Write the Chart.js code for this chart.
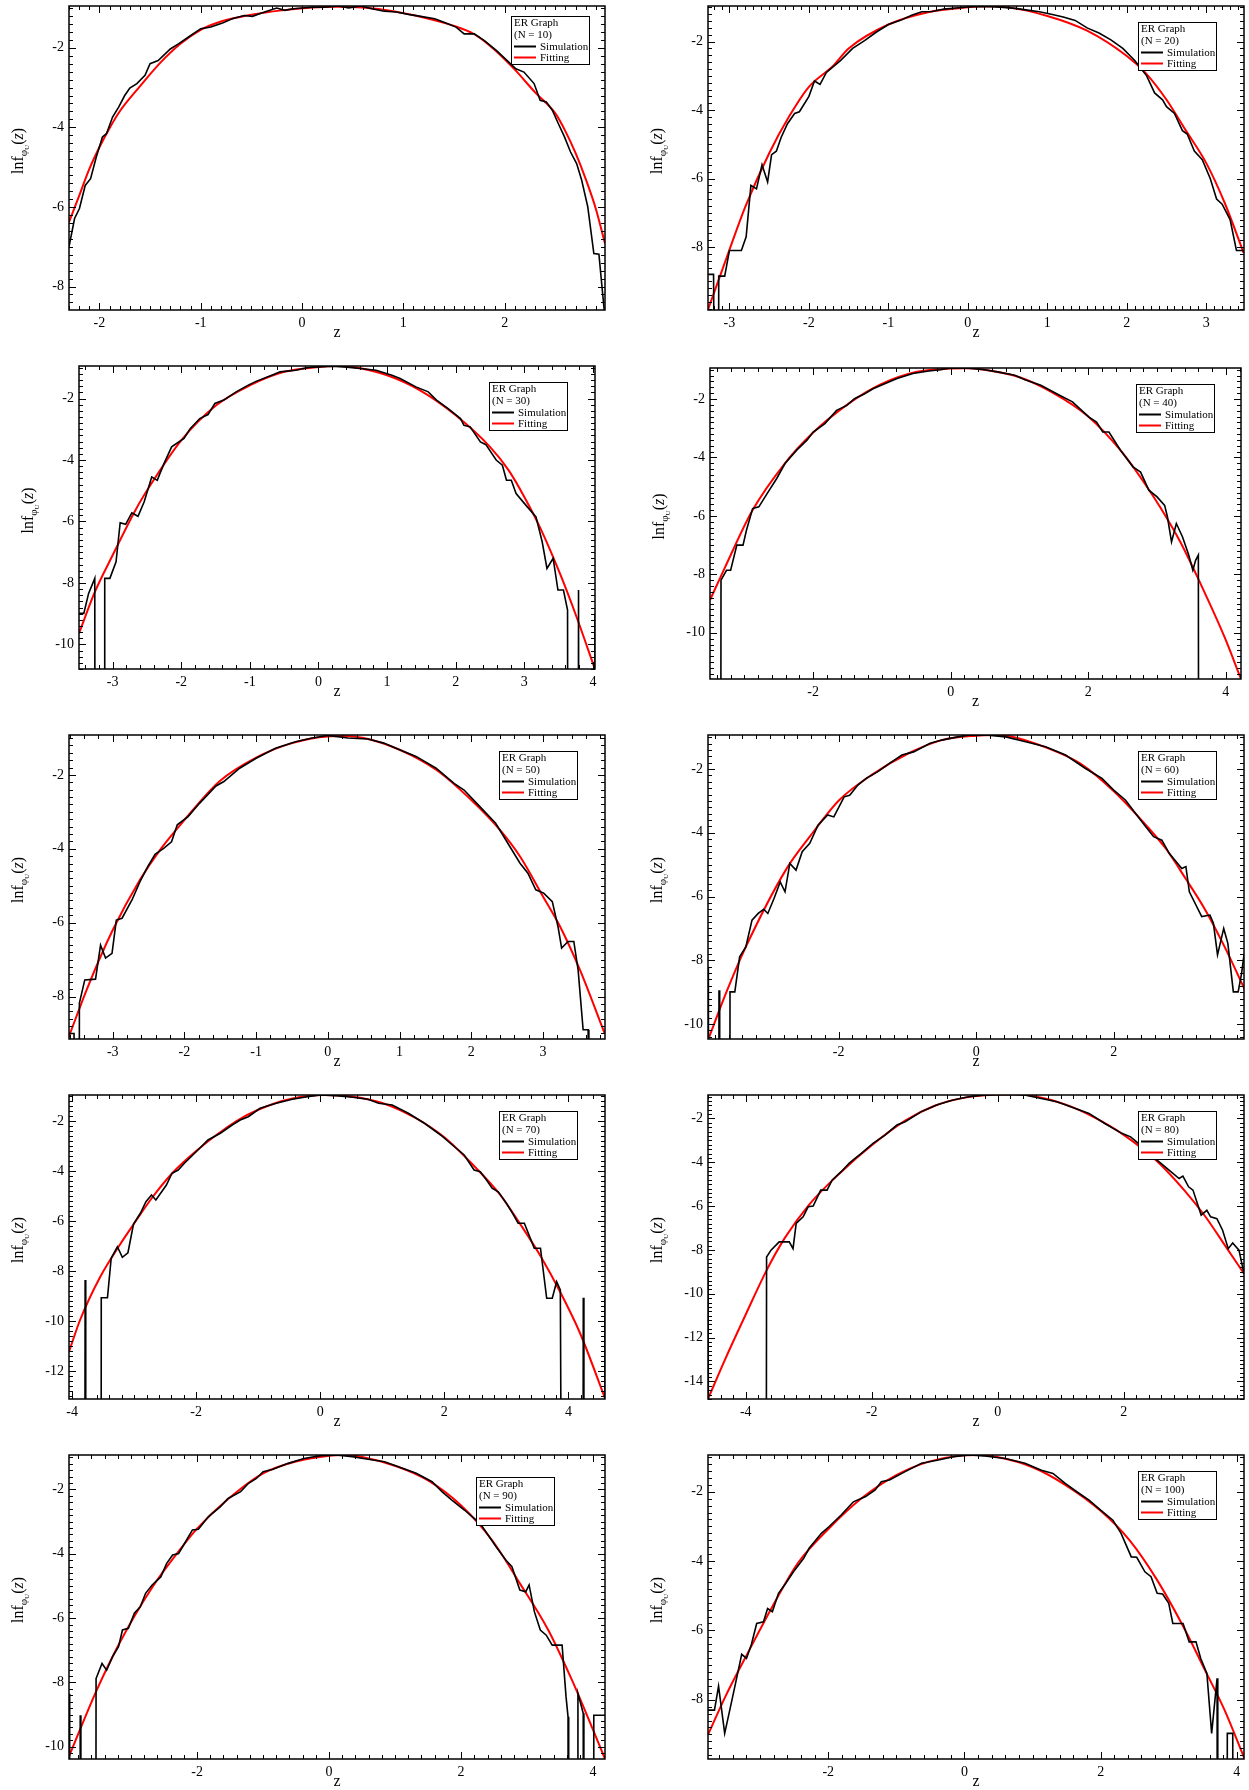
<!DOCTYPE html>
<html>
<head>
<meta charset="utf-8">
<script src="https://cdn.jsdelivr.net/npm/chart.js@4.4.0/dist/chart.umd.min.js"></script>
<style>
  html, body { margin: 0; padding: 0; background: #fff; overflow: hidden; }
  body { width: 1249px; height: 1790px; position: relative; }
  canvas { position: absolute; }
</style>
</head>
<body>
<script>
// ---- data: [z, ln f(z)] pairs; -30 marks empty bins (ln 0) ----
const panelN = [10, 20, 30, 40, 50, 60, 70, 80, 90, 100];

const sim10 = [[-2.30,-7.0],[-2.245,-6.29],[-2.197,-6.04],[-2.14,-5.46],[-2.087,-5.29],[-2.03,-4.74],[-1.97,-4.24],[-1.93,-4.16],[-1.87,-3.74],[-1.81,-3.49],[-1.75,-3.2],[-1.70,-3.01],[-1.63,-2.90],[-1.55,-2.69],[-1.50,-2.40],[-1.42,-2.32],[-1.30,-2.03],[-1.22,-1.90],[-1.12,-1.73],[-1.0,-1.52],[-0.90,-1.48],[-0.785,-1.38],[-0.69,-1.27],[-0.57,-1.19],[-0.49,-1.21],[-0.37,-1.10],[-0.25,-1.0],[-0.17,-1.06],[-0.09,-1.02],[0,-1.0],[0.10,-0.98],[0.22,-0.98],[0.36,-0.95],[0.46,-1.0],[0.58,-0.95],[0.69,-1.02],[0.81,-1.08],[0.93,-1.10],[1.05,-1.16],[1.17,-1.21],[1.31,-1.27],[1.40,-1.36],[1.52,-1.48],[1.60,-1.65],[1.70,-1.65],[1.80,-1.82],[1.92,-2.07],[2.04,-2.36],[2.11,-2.53],[2.19,-2.61],[2.29,-2.90],[2.35,-3.32],[2.41,-3.36],[2.47,-3.57],[2.53,-3.91],[2.59,-4.24],[2.65,-4.62],[2.71,-4.91],[2.76,-5.33],[2.82,-6.0],[2.88,-7.17],[2.93,-7.19],[2.96,-8.0],[2.99,-8.8]];
const fit10 = [[-2.3,-6.38],[-2.2,-5.72],[-2.1,-5.05],[-2.0,-4.5],[-1.9,-4.02],[-1.8,-3.6],[-1.6,-2.97],[-1.4,-2.38],[-1.2,-1.9],[-1.0,-1.55],[-0.8,-1.34],[-0.5,-1.17],[-0.2,-1.06],[0.1,-0.99],[0.35,-0.97],[0.6,-0.99],[0.9,-1.08],[1.2,-1.24],[1.5,-1.45],[1.7,-1.66],[1.9,-2.05],[2.1,-2.55],[2.3,-3.12],[2.5,-3.65],[2.6,-4.1],[2.7,-4.65],[2.8,-5.3],[2.9,-6.05],[2.99,-6.92]];

const sim20 = [[-3.27,-8.8],[-3.2,-8.8],[-3.145,-30],[-3.135,-8.85],[-3.06,-8.85],[-3.0,-8.1],[-2.93,-8.1],[-2.85,-8.1],[-2.79,-7.7],[-2.73,-6.2],[-2.66,-6.3],[-2.59,-5.6],[-2.52,-6.1],[-2.47,-5.3],[-2.41,-5.2],[-2.35,-4.8],[-2.27,-4.4],[-2.18,-4.1],[-2.12,-4.05],[-2.0,-3.6],[-1.93,-3.15],[-1.86,-3.25],[-1.78,-2.9],[-1.6,-2.55],[-1.45,-2.2],[-1.3,-1.97],[-1.15,-1.72],[-1.0,-1.5],[-0.85,-1.38],[-0.7,-1.22],[-0.58,-1.13],[-0.45,-1.12],[-0.3,-1.05],[-0.15,-1.02],[0,-0.99],[0.15,-0.97],[0.3,-0.98],[0.45,-1.0],[0.6,-1.03],[0.75,-1.08],[0.9,-1.13],[1.05,-1.2],[1.2,-1.28],[1.35,-1.38],[1.5,-1.6],[1.65,-1.75],[1.8,-1.95],[1.95,-2.2],[2.1,-2.55],[2.25,-3.0],[2.35,-3.5],[2.45,-3.7],[2.5,-3.9],[2.6,-4.1],[2.7,-4.6],[2.76,-4.7],[2.85,-5.2],[2.95,-5.45],[3.05,-6.0],[3.13,-6.6],[3.2,-6.75],[3.3,-7.2],[3.38,-8.1],[3.47,-8.1]];
const fit20 = [[-3.27,-9.83],[-3.0,-8.08],[-2.8,-6.82],[-2.5,-5.26],[-2.25,-4.19],[-2.0,-3.32],[-1.7,-2.72],[-1.5,-2.2],[-1.0,-1.5],[-0.5,-1.14],[0,-1.0],[0.22,-0.97],[0.5,-1.0],[1.0,-1.25],[1.5,-1.68],[2.0,-2.42],[2.23,-2.9],[2.5,-3.7],[2.73,-4.55],[3.0,-5.55],[3.23,-6.7],[3.47,-8.17]];

const sim30 = [[-3.49,-8.99],[-3.42,-8.99],[-3.35,-8.34],[-3.26,-7.85],[-3.25,-30],[-3.12,-30],[-3.115,-7.85],[-3.04,-7.85],[-2.95,-7.31],[-2.89,-6.04],[-2.81,-6.09],[-2.72,-5.72],[-2.63,-5.83],[-2.54,-5.36],[-2.43,-4.55],[-2.35,-4.66],[-2.25,-4.11],[-2.14,-3.57],[-1.96,-3.30],[-1.87,-2.98],[-1.73,-2.65],[-1.61,-2.52],[-1.51,-2.16],[-1.38,-2.05],[-1.2,-1.78],[-1.03,-1.57],[-0.91,-1.44],[-0.68,-1.24],[-0.56,-1.13],[-0.33,-1.08],[-0.15,-0.99],[0,-0.97],[0.2,-0.95],[0.37,-0.97],[0.61,-1.02],[0.84,-1.08],[1.07,-1.24],[1.19,-1.35],[1.42,-1.62],[1.6,-1.78],[1.72,-2.05],[1.89,-2.33],[2.07,-2.65],[2.12,-2.87],[2.21,-2.92],[2.36,-3.41],[2.44,-3.50],[2.59,-4.0],[2.68,-4.17],[2.74,-4.66],[2.81,-4.66],[2.88,-5.09],[3.0,-5.41],[3.17,-5.85],[3.26,-6.66],[3.33,-7.53],[3.42,-7.2],[3.49,-8.23],[3.57,-8.23],[3.63,-8.88],[3.64,-30],[3.78,-30],[3.79,-8.23],[3.80,-30],[4.01,-30],[4.03,-8.99]];
const fit30 = [[-3.49,-9.64],[-3.26,-8.3],[-3.0,-7.1],[-2.66,-5.6],[-2.43,-4.75],[-2.0,-3.36],[-1.49,-2.22],[-1.0,-1.57],[-0.5,-1.13],[0,-0.97],[0.26,-0.94],[0.49,-0.97],[1.0,-1.24],[1.48,-1.73],[2.0,-2.54],[2.5,-3.57],[2.77,-4.33],[3.0,-5.2],[3.23,-6.2],[3.52,-7.7],[3.76,-9.1],[4.03,-10.81]];

const sim40 = [[-3.35,-30],[-3.34,-8.2],[-3.26,-7.86],[-3.20,-7.86],[-3.11,-7.0],[-3.02,-7.0],[-2.97,-6.49],[-2.88,-5.75],[-2.79,-5.69],[-2.67,-5.24],[-2.53,-4.72],[-2.41,-4.21],[-2.24,-3.75],[-2.09,-3.41],[-2.0,-3.13],[-1.83,-2.84],[-1.66,-2.39],[-1.51,-2.22],[-1.40,-1.99],[-1.25,-1.82],[-1.13,-1.65],[-0.96,-1.48],[-0.78,-1.30],[-0.55,-1.13],[-0.32,-1.04],[-0.15,-1.0],[0,-0.93],[0.26,-0.95],[0.49,-1.0],[0.70,-1.08],[0.93,-1.19],[1.08,-1.34],[1.31,-1.53],[1.54,-1.82],[1.77,-2.10],[2.01,-2.62],[2.12,-2.79],[2.21,-3.13],[2.30,-3.13],[2.47,-3.76],[2.65,-4.32],[2.76,-4.50],[2.88,-5.12],[3.0,-5.35],[3.11,-5.64],[3.15,-6.03],[3.21,-6.89],[3.28,-6.26],[3.37,-6.72],[3.46,-7.34],[3.52,-7.86],[3.56,-7.52],[3.60,-7.34],[3.61,-30]];
const fit40 = [[-3.5,-8.88],[-3.28,-7.75],[-2.88,-5.8],[-2.41,-4.2],[-2.0,-3.15],[-1.48,-2.15],[-1.02,-1.5],[-0.49,-1.07],[0,-0.96],[0.2,-0.95],[0.49,-1.0],[0.99,-1.25],[1.48,-1.78],[1.99,-2.58],[2.47,-3.76],[2.82,-4.89],[3.05,-5.72],[3.34,-6.9],[3.63,-8.31],[3.98,-10.14],[4.22,-11.58]];

const sim50 = [[-3.61,-9.0],[-3.54,-9.0],[-3.48,-30],[-3.465,-8.18],[-3.39,-7.55],[-3.24,-7.53],[-3.17,-6.61],[-3.10,-6.96],[-3.01,-6.83],[-2.95,-5.93],[-2.87,-5.88],[-2.73,-5.38],[-2.62,-4.89],[-2.51,-4.48],[-2.41,-4.15],[-2.29,-3.99],[-2.18,-3.81],[-2.10,-3.35],[-1.95,-3.13],[-1.79,-2.77],[-1.56,-2.30],[-1.45,-2.18],[-1.23,-1.82],[-1.0,-1.55],[-0.73,-1.28],[-0.45,-1.10],[-0.22,-1.0],[0,-0.93],[0.28,-1.0],[0.56,-1.03],[0.78,-1.14],[1.0,-1.32],[1.23,-1.50],[1.51,-1.82],[1.76,-2.23],[1.90,-2.41],[2.12,-2.86],[2.34,-3.31],[2.51,-3.85],[2.68,-4.39],[2.79,-4.66],[2.90,-5.11],[3.01,-5.20],[3.13,-5.43],[3.21,-6.11],[3.26,-6.69],[3.35,-6.51],[3.43,-6.51],[3.49,-7.28],[3.56,-8.90],[3.63,-8.90],[3.64,-30]];
const fit50 = [[-3.62,-9.13],[-3.35,-7.75],[-3.0,-6.2],[-2.62,-4.84],[-2.34,-4.03],[-2.0,-3.22],[-1.51,-2.17],[-1.0,-1.53],[-0.5,-1.14],[0,-0.96],[0.22,-0.95],[0.5,-1.0],[1.0,-1.32],[1.51,-1.86],[2.0,-2.68],[2.4,-3.49],[2.68,-4.21],[3.0,-5.29],[3.24,-6.11],[3.52,-7.3],[3.86,-9.0]];

const sim60 = [[-3.895,-8.2],[-3.88,-30],[-3.75,-30],[-3.74,-8.94],[-3.73,-30],[-3.585,-30],[-3.58,-8.99],[-3.51,-8.99],[-3.44,-7.89],[-3.35,-7.58],[-3.26,-6.74],[-3.17,-6.53],[-3.09,-6.40],[-3.03,-6.53],[-2.94,-6.06],[-2.85,-5.54],[-2.78,-5.85],[-2.71,-4.96],[-2.62,-5.17],[-2.53,-4.59],[-2.42,-4.33],[-2.30,-3.76],[-2.16,-3.44],[-2.07,-3.50],[-1.92,-2.87],[-1.84,-2.82],[-1.72,-2.50],[-1.60,-2.29],[-1.43,-2.08],[-1.26,-1.82],[-1.08,-1.56],[-0.91,-1.46],[-0.67,-1.19],[-0.50,-1.09],[-0.27,-0.99],[-0.09,-0.93],[0.14,-0.93],[0.43,-0.99],[0.72,-1.14],[1.01,-1.30],[1.30,-1.56],[1.59,-1.98],[1.83,-2.29],[2.0,-2.66],[2.17,-2.97],[2.41,-3.65],[2.58,-4.12],[2.70,-4.23],[2.81,-4.65],[2.99,-5.12],[3.05,-5.06],[3.10,-5.85],[3.28,-6.63],[3.40,-6.58],[3.45,-6.84],[3.51,-7.83],[3.60,-7.0],[3.66,-7.47],[3.74,-8.99],[3.81,-8.99],[3.86,-8.41],[3.895,-7.83]];
const fit60 = [[-3.89,-10.45],[-3.64,-9.04],[-3.35,-7.58],[-2.77,-5.17],[-2.42,-4.12],[-1.99,-2.97],[-1.49,-2.14],[-0.99,-1.51],[-0.5,-1.09],[0,-0.95],[0.26,-0.93],[0.49,-0.97],[1.01,-1.32],[1.51,-1.82],[2.01,-2.71],[2.47,-3.76],[2.76,-4.5],[3.05,-5.45],[3.34,-6.45],[3.63,-7.65],[3.91,-8.94]];

const sim70 = [[-3.80,-30],[-3.79,-8.36],[-3.78,-30],[-3.535,-30],[-3.53,-9.07],[-3.43,-9.07],[-3.37,-7.49],[-3.27,-7.03],[-3.19,-7.45],[-3.10,-7.27],[-3.01,-6.12],[-2.90,-5.69],[-2.81,-5.23],[-2.72,-4.96],[-2.65,-5.16],[-2.48,-4.56],[-2.39,-4.09],[-2.29,-3.96],[-2.19,-3.69],[-2.0,-3.23],[-1.81,-2.76],[-1.61,-2.49],[-1.42,-2.16],[-1.29,-1.96],[-1.16,-1.83],[-0.97,-1.49],[-0.71,-1.29],[-0.45,-1.13],[-0.26,-1.05],[0,-0.96],[0.26,-0.99],[0.52,-1.05],[0.77,-1.13],[0.94,-1.29],[1.16,-1.36],[1.42,-1.69],[1.68,-2.09],[1.94,-2.56],[2.13,-2.96],[2.32,-3.36],[2.48,-3.96],[2.58,-4.03],[2.68,-4.36],[2.77,-4.69],[2.87,-4.83],[3.0,-5.29],[3.10,-5.69],[3.19,-6.09],[3.29,-6.09],[3.45,-7.09],[3.55,-7.09],[3.65,-9.09],[3.74,-9.09],[3.81,-8.43],[3.87,-8.76],[3.91,-30],[4.23,-30],[4.24,-9.07],[4.25,-30],[4.58,-30],[4.59,-9.03]];
const fit70 = [[-4.05,-11.23],[-3.87,-9.95],[-3.55,-8.25],[-3.23,-6.95],[-3.0,-6.1],[-2.72,-5.1],[-2.39,-4.1],[-2.0,-3.2],[-1.35,-2.0],[-1.0,-1.55],[-0.5,-1.13],[0.07,-0.96],[0.5,-1.02],[1.0,-1.28],[1.55,-1.9],[2.0,-2.65],[2.48,-3.8],[2.9,-4.95],[3.23,-6.15],[3.55,-7.4],[3.87,-8.85],[4.19,-10.5],[4.59,-13.09]];

const sim80 = [[-4.6,-9.0],[-4.58,-30],[-3.68,-30],[-3.67,-8.32],[-3.60,-8.01],[-3.47,-7.63],[-3.31,-7.63],[-3.25,-7.94],[-3.20,-6.79],[-3.09,-6.49],[-3.01,-6.03],[-2.93,-6.0],[-2.81,-5.27],[-2.71,-5.27],[-2.63,-4.82],[-2.49,-4.44],[-2.36,-4.05],[-2.30,-3.90],[-2.17,-3.60],[-1.98,-3.14],[-1.79,-2.76],[-1.6,-2.30],[-1.47,-2.15],[-1.22,-1.70],[-0.97,-1.39],[-0.71,-1.16],[-0.46,-1.01],[-0.20,-0.93],[0,-0.91],[0.24,-0.90],[0.43,-0.93],[0.69,-1.09],[0.94,-1.24],[1.19,-1.50],[1.45,-1.77],[1.70,-2.23],[1.97,-2.68],[2.11,-2.84],[2.3,-3.3],[2.53,-3.90],[2.72,-4.36],[2.88,-4.74],[2.94,-4.63],[3.03,-5.12],[3.10,-5.27],[3.23,-6.41],[3.32,-6.19],[3.38,-6.49],[3.48,-6.57],[3.57,-7.10],[3.66,-7.94],[3.73,-7.68],[3.83,-8.01],[3.91,-9.08]];
const fit80 = [[-4.6,-14.8],[-4.33,-13.0],[-4.01,-11.0],[-3.67,-8.93],[-3.38,-7.45],[-3.0,-5.95],[-2.49,-4.45],[-1.99,-3.2],[-1.47,-2.1],[-1.0,-1.42],[-0.52,-1.05],[0,-0.91],[0.3,-0.9],[0.56,-0.97],[1.07,-1.36],[1.51,-1.92],[2.0,-2.75],[2.53,-3.95],[2.97,-5.3],[3.29,-6.45],[3.61,-7.8],[3.91,-9.08]];

const sim90 = [[-3.94,-8.35],[-3.93,-30],[-3.78,-30],[-3.77,-9.02],[-3.76,-30],[-3.54,-30],[-3.53,-7.88],[-3.44,-7.41],[-3.37,-7.62],[-3.28,-7.20],[-3.19,-6.89],[-3.13,-6.37],[-3.04,-6.32],[-2.95,-5.85],[-2.86,-5.65],[-2.78,-5.23],[-2.68,-4.97],[-2.55,-4.72],[-2.46,-4.30],[-2.37,-4.04],[-2.28,-3.99],[-2.19,-3.68],[-2.07,-3.26],[-1.98,-3.24],[-1.83,-2.85],[-1.65,-2.54],[-1.53,-2.28],[-1.34,-2.07],[-1.22,-1.81],[-1.10,-1.66],[-1.0,-1.45],[-0.86,-1.38],[-0.62,-1.19],[-0.38,-1.04],[-0.13,-0.95],[0.11,-0.93],[0.35,-0.98],[0.59,-1.06],[0.84,-1.14],[1.08,-1.32],[1.32,-1.50],[1.56,-1.76],[1.71,-2.07],[1.86,-2.33],[2.05,-2.64],[2.29,-3.06],[2.53,-3.78],[2.68,-4.20],[2.77,-4.40],[2.89,-5.13],[2.98,-5.18],[3.03,-4.97],[3.11,-5.80],[3.20,-6.37],[3.29,-6.53],[3.38,-6.84],[3.53,-6.84],[3.59,-8.45],[3.62,-9.07],[3.63,-30],[3.76,-30],[3.77,-8.34],[3.85,-8.96],[3.86,-30],[4.0,-30],[4.01,-9.02],[4.18,-9.02]];
const fit90 = [[-3.94,-10.3],[-3.52,-8.24],[-3.16,-6.72],[-2.68,-5.05],[-2.25,-3.85],[-2.0,-3.22],[-1.53,-2.3],[-1.0,-1.5],[-0.5,-1.13],[0,-0.95],[0.23,-0.93],[0.5,-0.99],[1.02,-1.28],[1.5,-1.72],[2.0,-2.5],[2.47,-3.58],[2.89,-4.92],[3.32,-6.37],[3.68,-7.93],[3.98,-9.38],[4.18,-10.38]];

const sim100 = [[-3.765,-8.30],[-3.67,-8.30],[-3.61,-7.61],[-3.52,-8.97],[-3.44,-8.25],[-3.36,-7.52],[-3.27,-6.69],[-3.20,-6.81],[-3.13,-6.42],[-3.05,-5.80],[-2.95,-5.75],[-2.89,-5.37],[-2.82,-5.46],[-2.73,-4.93],[-2.63,-4.66],[-2.51,-4.31],[-2.36,-3.92],[-2.28,-3.63],[-2.10,-3.20],[-1.99,-3.01],[-1.81,-2.67],[-1.63,-2.29],[-1.45,-2.14],[-1.31,-1.95],[-1.22,-1.71],[-1.10,-1.66],[-0.87,-1.42],[-0.63,-1.18],[-0.40,-1.09],[-0.16,-0.99],[0.07,-0.94],[0.30,-0.97],[0.60,-1.04],[0.89,-1.18],[1.13,-1.38],[1.30,-1.47],[1.48,-1.76],[1.65,-2.0],[1.83,-2.24],[2.0,-2.53],[2.18,-2.82],[2.30,-3.20],[2.45,-3.88],[2.53,-3.89],[2.65,-4.31],[2.74,-4.45],[2.83,-4.93],[2.91,-4.95],[3.0,-5.22],[3.06,-5.80],[3.21,-5.80],[3.30,-6.33],[3.40,-6.33],[3.47,-6.81],[3.56,-7.24],[3.63,-8.97],[3.71,-7.38],[3.72,-30],[3.85,-30],[3.86,-8.97],[3.94,-8.97],[3.95,-30]];
const fit100 = [[-3.76,-8.99],[-3.51,-7.91],[-3.21,-6.76],[-2.74,-5.03],[-2.45,-4.07],[-1.99,-3.06],[-1.51,-2.19],[-1.0,-1.52],[-0.52,-1.13],[0,-0.95],[0.19,-0.94],[0.48,-1.0],[1.01,-1.3],[1.48,-1.8],[2.0,-2.55],[2.42,-3.39],[2.83,-4.55],[3.24,-5.99],[3.53,-7.14],[3.82,-8.30],[4.11,-9.69]];

const sims = [sim10, sim20, sim30, sim40, sim50, sim60, sim70, sim80, sim90, sim100];
const fits = [fit10, fit20, fit30, fit40, fit50, fit60, fit70, fit80, fit90, fit100];

// axis ranges and tick labels
const xLimits = [[-2.3, 2.99], [-3.27, 3.475], [-3.49, 4.03], [-3.5, 4.22], [-3.61, 3.865],
                 [-3.9, 3.895], [-4.05, 4.59], [-4.6, 3.91], [-3.94, 4.18], [-3.765, 4.105]];
const yLimits = [[-8.59, -0.95], [-9.84, -0.96], [-10.8, -0.94], [-11.58, -0.94], [-9.15, -0.92],
                 [-10.47, -0.93], [-13.12, -0.96], [-14.8, -0.93], [-10.38, -0.93], [-9.71, -0.94]];
const xTicks = [[-2, -1, 0, 1, 2], [-3, -2, -1, 0, 1, 2, 3], [-3, -2, -1, 0, 1, 2, 3, 4], [-2, 0, 2, 4],
                [-3, -2, -1, 0, 1, 2, 3], [-2, 0, 2], [-4, -2, 0, 2, 4], [-4, -2, 0, 2], [-2, 0, 2, 4], [-2, 0, 2, 4]];
const yTicks = [[-8, -6, -4, -2], [-8, -6, -4, -2], [-10, -8, -6, -4, -2], [-10, -8, -6, -4, -2], [-8, -6, -4, -2],
                [-10, -8, -6, -4, -2], [-12, -10, -8, -6, -4, -2], [-14, -12, -10, -8, -6, -4, -2],
                [-10, -8, -6, -4, -2], [-8, -6, -4, -2]];
const xMinor = [0.1, 0.1, 0.2, 0.2, 0.2, 0.2, 0.2, 0.2, 0.2, 0.2];
const yMinor = [0.2, 0.2, 0.2, 0.2, 0.2, 0.2, 0.2, 0.2, 0.2, 0.2];

// page placement of each plot box (px) and its legend offsets
const layout = [
  {l: 69,  r: 605,  t: 6,    b: 310,  legR: 16, legT: 10},
  {l: 708, r: 1244, t: 6,    b: 310,  legR: 28, legT: 16},
  {l: 79,  r: 595,  t: 366,  b: 669,  legR: 28, legT: 16},
  {l: 710, r: 1241, t: 368,  b: 679,  legR: 27, legT: 16},
  {l: 69,  r: 605,  t: 735,  b: 1039, legR: 28, legT: 16},
  {l: 708, r: 1244, t: 735,  b: 1039, legR: 28, legT: 16},
  {l: 69,  r: 605,  t: 1095, b: 1399, legR: 28, legT: 16},
  {l: 708, r: 1244, t: 1095, b: 1399, legR: 28, legT: 16},
  {l: 69,  r: 605,  t: 1455, b: 1759, legR: 51, legT: 22},
  {l: 708, r: 1244, t: 1455, b: 1759, legR: 28, legT: 16}
];

const serif = '"Liberation Serif", "DejaVu Serif", serif';

// draws the grace-style box, inward ticks on all sides, the legend and the y title
const gracePlugin = {
  id: 'grace',
  afterDatasetsDraw(chart, args, opts) {
    const i = opts.panel, L = layout[i];
    const ctx = chart.ctx, a = chart.chartArea;
    const xs = chart.scales.x, ys = chart.scales.y;
    ctx.save();
    ctx.strokeStyle = '#000';
    ctx.lineWidth = 1;
    ctx.beginPath();
    const xTick = (v, len) => {
      const p = Math.round(xs.getPixelForValue(v)) + 0.5;
      ctx.moveTo(p, a.bottom); ctx.lineTo(p, a.bottom - len);
      ctx.moveTo(p, a.top); ctx.lineTo(p, a.top + len);
    };
    const yTick = (v, len) => {
      const p = Math.round(ys.getPixelForValue(v)) + 0.5;
      ctx.moveTo(a.left, p); ctx.lineTo(a.left + len, p);
      ctx.moveTo(a.right, p); ctx.lineTo(a.right - len, p);
    };
    const minors = (min, max, step, fn) => {
      for (let k = Math.ceil(min / step - 1e-6); k * step <= max + 1e-6; k++) fn(k * step, 4);
    };
    minors(xs.min, xs.max, xMinor[i], xTick);
    minors(ys.min, ys.max, yMinor[i], yTick);
    xTicks[i].forEach(v => xTick(v, 7));
    yTicks[i].forEach(v => yTick(v, 7));
    ctx.stroke();

    ctx.lineWidth = 1.5;
    ctx.strokeRect(a.left, a.top, a.right - a.left, a.bottom - a.top);

    // legend
    const bw = 78, bh = 48;
    const lx = Math.round(a.right - L.legR - bw), ly = Math.round(a.top + L.legT);
    ctx.fillStyle = '#fff';
    ctx.fillRect(lx, ly, bw, bh);
    ctx.lineWidth = 1;
    ctx.strokeRect(lx + 0.5, ly + 0.5, bw, bh);
    ctx.fillStyle = '#000';
    ctx.font = '11px ' + serif;
    ctx.textBaseline = 'middle';
    ctx.textAlign = 'left';
    ctx.fillText('ER Graph', lx + 3, ly + 7.5);
    ctx.fillText('(N = ' + panelN[i] + ')', lx + 3, ly + 19);
    chart.data.datasets.forEach((ds, k) => {
      const y = ly + 30.5 + k * 11;
      ctx.strokeStyle = ds.borderColor;
      ctx.lineWidth = 2;
      ctx.beginPath();
      ctx.moveTo(lx + 3, y); ctx.lineTo(lx + 25, y);
      ctx.stroke();
      ctx.fillText(ds.label, lx + 29, y + 0.5);
    });
    ctx.restore();
  },
  afterDraw(chart) {
    const ctx = chart.ctx, a = chart.chartArea;
    const parts = [
      {t: 'lnf', f: '16px ' + serif, dy: 0},
      {t: 'φ', f: '11px ' + serif, dy: 4},
      {t: 'U', f: '7px ' + serif, dy: 6},
      {t: '(', f: '16px ' + serif, dy: 0},
      {t: 'z', f: 'italic 16px ' + serif, dy: 0},
      {t: ')', f: '16px ' + serif, dy: 0}
    ];
    let total = 0;
    parts.forEach(p => { ctx.font = p.f; p.w = ctx.measureText(p.t).width; total += p.w; });
    ctx.save();
    ctx.translate(a.left - 51, (a.top + a.bottom) / 2 - 7);
    ctx.rotate(-Math.PI / 2);
    ctx.fillStyle = '#000';
    ctx.textBaseline = 'alphabetic';
    ctx.textAlign = 'left';
    let x = -total / 2;
    parts.forEach(p => { ctx.font = p.f; ctx.fillText(p.t, x, 5 + p.dy); x += p.w; });
    ctx.restore();
  }
};

function makePanel(i) {
  const L = layout[i];
  const w = L.r - L.l + 64, h = L.b - L.t + 44;
  const canvas = document.createElement('canvas');
  canvas.width = w; canvas.height = h;
  canvas.style.left = (L.l - 60) + 'px';
  canvas.style.top = (L.t - 4) + 'px';
  canvas.style.width = w + 'px';
  canvas.style.height = h + 'px';
  document.body.appendChild(canvas);

  const tickFont = {family: serif, size: 14};
  new Chart(canvas, {
    type: 'line',
    data: {
      datasets: [
        {label: 'Simulation', data: sims[i].map(p => ({x: p[0], y: p[1]})),
         borderColor: '#000000', borderWidth: 1.6, pointRadius: 0, tension: 0},
        {label: 'Fitting', data: fits[i].map(p => ({x: p[0], y: p[1]})),
         borderColor: '#ff0000', borderWidth: 2, pointRadius: 0, cubicInterpolationMode: 'monotone'}
      ]
    },
    options: {
      responsive: false,
      animation: false,
      devicePixelRatio: 1,
      layout: {padding: {top: 4, right: 4, left: 0, bottom: 0}},
      plugins: {legend: {display: false}, tooltip: {enabled: false}, grace: {panel: i}},
      scales: {
        x: {
          type: 'linear', min: xLimits[i][0], max: xLimits[i][1],
          grid: {display: false, drawTicks: false}, border: {display: false},
          ticks: {autoSkip: false, maxRotation: 0, padding: 5, color: '#000', font: tickFont},
          afterBuildTicks: s => { s.ticks = xTicks[i].map(v => ({value: v})); },
          afterFit: s => { s.height = 40; s.paddingLeft = 0; s.paddingRight = 0; },
          title: {display: true, text: 'z', color: '#000', font: {family: serif, size: 16}, padding: {top: 0, bottom: 8}}
        },
        y: {
          type: 'linear', min: yLimits[i][0], max: yLimits[i][1],
          grid: {display: false, drawTicks: false}, border: {display: false},
          ticks: {autoSkip: false, padding: 5, color: '#000', font: tickFont},
          afterBuildTicks: s => { s.ticks = yTicks[i].map(v => ({value: v})); },
          afterFit: s => { s.width = 60; s.paddingTop = 0; s.paddingBottom = 0; }
        }
      }
    },
    plugins: [gracePlugin]
  });
}

for (let i = 0; i < 10; i++) makePanel(i);
</script>
</body>
</html>
